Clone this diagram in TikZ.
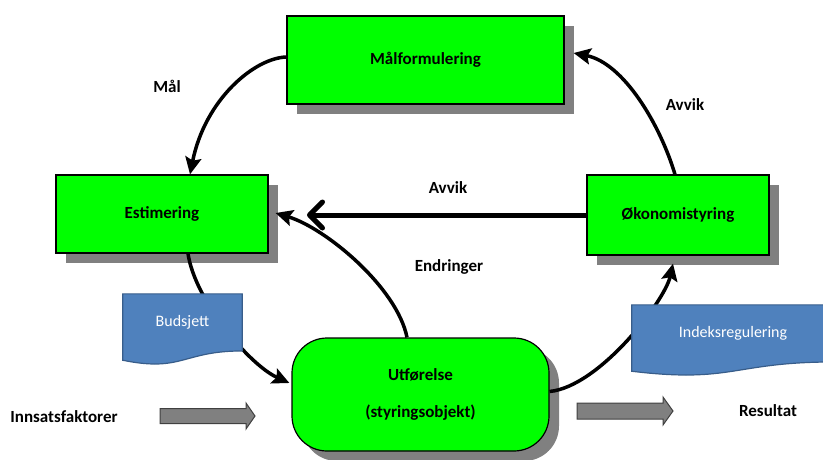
\documentclass[tikz,border=0pt]{standalone}
\usepackage{fontspec}
\setmainfont{Carlito}
\usetikzlibrary{arrows.meta, calc, shadows}
\definecolor{boksgronn}{RGB}{0,255,0}
\definecolor{skygge}{RGB}{128,128,128}
\definecolor{dokblaa}{RGB}{79,129,189}
\definecolor{dokkant}{RGB}{56,93,138}
\definecolor{pilgraa}{RGB}{128,128,128}
\definecolor{pilkant}{RGB}{64,64,64}

% dokumentform (boelgete bunn) rundt en tom node
\newcommand{\dokform}[1]{%
  \filldraw[dokument] (#1.north west) -- (#1.north east) -- (#1.south east)
    .. controls (#1.south) and ($(#1.south)+(0,21.5)$) .. ($(#1.south west)+(0,9.3)$) -- cycle;}

\begin{document}
\begin{tikzpicture}[
    x=1pt, y=-1pt,
    boks/.style={draw=black, line width=1.2pt, fill=boksgronn, inner sep=0pt,
        font=\fontsize{17}{20}\selectfont\bfseries,
        drop shadow={shadow xshift=10pt, shadow yshift=-10pt, fill=skygge, opacity=1}},
    etikett/.style={font=\fontsize{17}{20}\selectfont\bfseries},
    pil/.style={line width=3.5pt, -{Stealth[length=17pt,width=16pt,inset=3pt]}},
    dokboks/.style={inner sep=0pt, minimum width=#1, minimum height=56.7pt},
    dokument/.style={fill=dokblaa, draw=dokkant, line width=1.2pt},
    doktekst/.style={text=white, font=\fontsize{16}{19}\selectfont},
    blokkpil/.style={fill=pilgraa, draw=pilkant, line width=1pt}
]
\useasboundingbox (0,0) rectangle (823,459);

% Bokser
\node[boks, minimum width=277pt, minimum height=88pt] (malf) at (425.5,60) {Målformulering};
\node[boks, minimum width=212pt, minimum height=78pt] (estim) at (162,214) {Estimering};
\node[boks, minimum width=182pt, minimum height=80pt] (okon) at (678,215) {Økonomistyring};
\node[boks, rounded corners=35pt, align=center, minimum width=257pt, minimum height=113pt] (utf) at (420.5,394.5)
    {Utførelse\\[17pt](styringsobjekt)};

% Dokumenter
\node[dokboks=119pt] (budsjett) at (182.5,322.4) {};
\node[dokboks=202pt] (indeks) at (733,333.4) {};

% Piler
\draw[pil] ([yshift=3pt]malf.west) .. controls +(-32,1) and +(15,-75) .. ([xshift=28pt]estim.north);
\draw[pil] ([xshift=-3pt]okon.north) .. controls +(-15,-50) and +(50,10) .. ([shift={(9pt,7pt)}]malf.east);
\coordinate (avvikende) at (307,215);
\draw[line width=5pt, -{Straight Barb[length=13pt,width=26pt,round]}] (okon.west) -- (avvikende);
\draw[pil] ([xshift=-13.5pt]utf.north) .. controls +(-10,-50) and +(50,15) .. ([shift={(7pt,1pt)}]estim.east);
\draw[pil] ([xshift=26pt]estim.south) .. controls +(7,47) and +(-40,-18) .. ([shift={(-2pt,11.5pt)}]utf.west);
\draw[pil] ([yshift=3pt]utf.east) .. controls +(50,-5) and +(-8,37) .. ([shift={(-5pt,-8pt)}]okon.south);

\dokform{budsjett}
\dokform{indeks}
\node[doktekst] (budsjetttekst) at (budsjett.center) {Budsjett};
\node[doktekst] (indekstekst) at (indeks.center) {Indeksregulering};

% Tekster
\node[etikett] (mal) at (167,86) {Mål};
\node[etikett] (avvik1) at (685,105) {Avvik};
\node[etikett] (avvik2) at (448,188) {Avvik};
\node[etikett] (endringer) at (449,267) {Endringer};
\node[etikett] (inn) at (64,417) {Innsatsfaktorer};
\node[etikett] (res) at (768,411) {Resultat};

% Blokkpiler
\draw[blokkpil] (160,408.5) -- (246,408.5) -- (246,403) -- (255,416) -- (246,429) -- (246,423.5) -- (160,423.5) -- cycle;
\draw[blokkpil] (577,403) -- (663,403) -- (663,397) -- (673,411) -- (663,425) -- (663,419) -- (577,419) -- cycle;

\end{tikzpicture}
\end{document}
